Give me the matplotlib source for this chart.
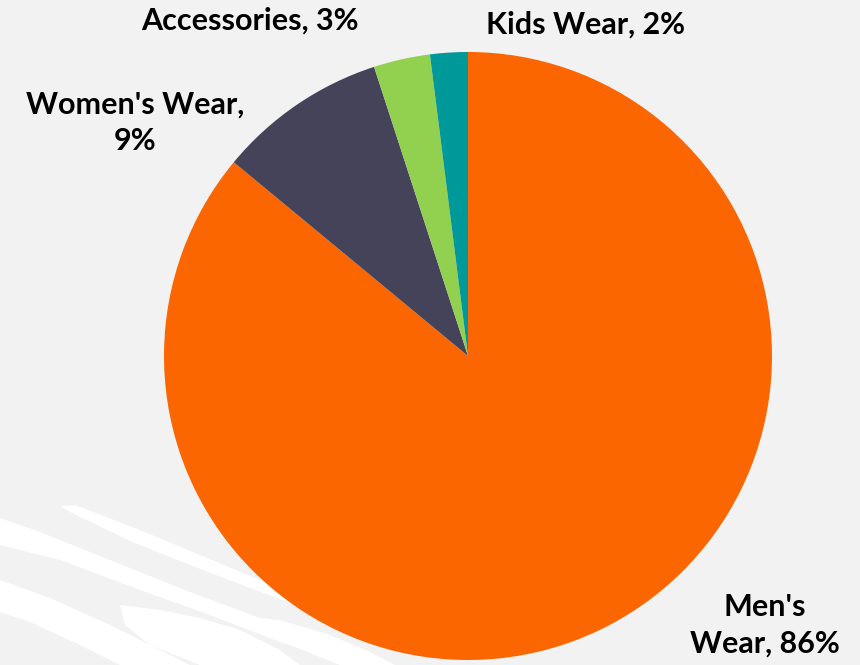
import matplotlib
matplotlib.use("Agg")
import matplotlib.pyplot as plt
from matplotlib.patches import Polygon

categories = ["Men's Wear", "Women's Wear", "Accessories", "Kids Wear"]
values = [86, 9, 3, 2]
colors = ["#FB6600", "#44435A", "#92D050", "#009999"]

W, H = 860, 665
fig = plt.figure(figsize=(W / 100, H / 100), dpi=100)
fig.patch.set_facecolor("#F2F2F2")
ax = fig.add_axes([0, 0, 1, 1])
ax.set_facecolor("#F2F2F2")

def py(y):
    return H - y

# decorative white brush strokes (background)
strokes = [
    [(60, 506), (75, 505), (140, 530), (200, 555), (260, 580), (320, 605), (330, 612), (310, 610), (250, 588), (190, 565), (130, 541), (70, 512)],
    [(0, 518), (40, 532), (110, 560), (190, 592), (260, 618), (330, 645), (390, 665), (350, 665), (280, 642), (210, 615), (140, 590), (60, 560), (0, 545)],
    [(0, 580), (50, 598), (110, 625), (160, 650), (190, 665), (120, 665), (80, 645), (30, 622), (0, 612)],
    [(120, 605), (160, 610), (200, 618), (240, 630), (280, 650), (300, 665), (200, 665), (150, 645), (125, 625)],
    [(230, 615), (280, 620), (330, 635), (370, 652), (395, 665), (340, 665), (290, 645), (245, 628)],
]
for s in strokes:
    ax.add_patch(Polygon([(x, py(y)) for x, y in s], closed=True,
                         facecolor="white", edgecolor="none", zorder=0))

cx, cy, r = 468, 356, 304
ax.pie(values, colors=colors, startangle=90, counterclock=False,
       center=(cx, py(cy)), radius=r, frame=True,
       wedgeprops=dict(linewidth=0))
ax.set_xlim(0, W)
ax.set_ylim(0, H)
ax.set_aspect("equal")
ax.axis("off")

label_pos = {
    "Men's Wear": (765, 625, "Men's\nWear, {}%"),
    "Women's Wear": (135, 123, "Women's Wear,\n{}%"),
    "Accessories": (250, 21, "Accessories, {}%"),
    "Kids Wear": (585, 25, "Kids Wear, {}%"),
}
for cat, v in zip(categories, values):
    x, y, fmt = label_pos[cat]
    ax.text(x, py(y), fmt.format(v), ha="center", va="center",
            fontsize=22, fontweight="bold", family=["Lato", "DejaVu Sans"],
            color="black", linespacing=1.38)

fig.savefig("out.png", dpi=100, facecolor=fig.get_facecolor())
